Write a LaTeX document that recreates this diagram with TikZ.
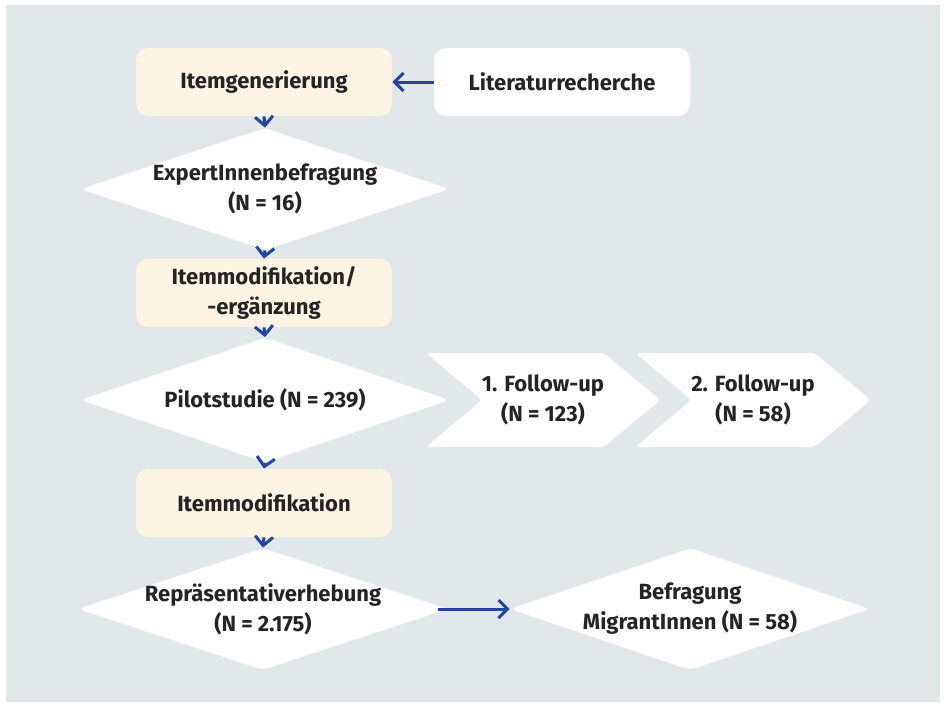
\documentclass[tikz,border=0pt]{standalone}
\usepackage{fontspec}
\setmainfont{Fira Sans}
\usetikzlibrary{shapes.geometric,shapes.symbols,arrows.meta}

\definecolor{bggrey}{RGB}{226,231,234}
\definecolor{boxcream}{RGB}{253,244,228}
\definecolor{arrowblue}{RGB}{36,68,160}
\definecolor{textdark}{RGB}{36,36,36}

\tikzset{
  flowtext/.style={font=\bfseries\fontsize{11}{15}\selectfont, text=textdark, align=center},
  itembox/.style={flowtext, rectangle, rounded corners=6pt, fill=boxcream,
    minimum width=128pt, minimum height=34pt, inner sep=0pt},
  sourcebox/.style={itembox, fill=white},
  studydiamond/.style={diamond, fill=white, rounded corners=3pt, inner sep=0pt,
    minimum width=185pt, minimum height=61pt},
  studytext/.style={flowtext, inner sep=0pt},
  followbox/.style={flowtext, signal, signal from=west, signal to=east,
    signal pointer angle=80, fill=white, rounded corners=2pt, inner sep=0pt,
    minimum width=117pt, minimum height=47pt},
  flowarrow/.style={draw=arrowblue, line width=1.5pt,
    -{Straight Barb[length=4.5pt,width=9pt,line width=1.5pt]}}
}

\begin{document}
\begin{tikzpicture}[x=0.5pt,y=-0.5pt]
  % canvas
  \useasboundingbox (0,0) rectangle (946,708);
  \fill[bggrey] (6,5) rectangle (940,702);

  % main column
  \node[itembox] (gen) at (264,82) {Itemgenerierung};
  \node[sourcebox] (lit) at (562,82) {Literaturrecherche};
  \node[studydiamond, label={[studytext]center:ExpertInnenbefragung\\(N = 16)}]
    (expert) at (265,189) {};
  \node[itembox] (mod) at (264,293) {Itemmodifikation/\\-ergänzung};
  \node[studydiamond, minimum height=62.5pt, label={[studytext]center:Pilotstudie (N = 239)}]
    (pilot) at (265,400) {};
  \node[itembox] (modtwo) at (264,503) {Itemmodifikation};
  \node[studydiamond, label={[studytext]center:Repräsentativerhebung\\(N = 2.175)}]
    (rep) at (263,609) {};

  % follow-ups and side survey
  \node[followbox] (fupone) at (543,400) {1. Follow-up\\(N = 123)};
  \node[followbox] (fuptwo) at (753,400) {2. Follow-up\\(N = 58)};
  \node[studydiamond, minimum width=180pt, label={[studytext]center:Befragung\\MigrantInnen (N = 58)}]
    (migr) at (690,609) {};

  % connectors
  \draw[flowarrow] (lit.west) -- (gen.east);
  \foreach \a/\b in {gen/expert, expert/mod, mod/pilot, pilot/modtwo, modtwo/rep}{
    \draw[flowarrow] (\a.south) -- (\b.north);
  }
  \draw[flowarrow] ([xshift=-5pt]rep.east) -- (migr.west);
\end{tikzpicture}
\end{document}
